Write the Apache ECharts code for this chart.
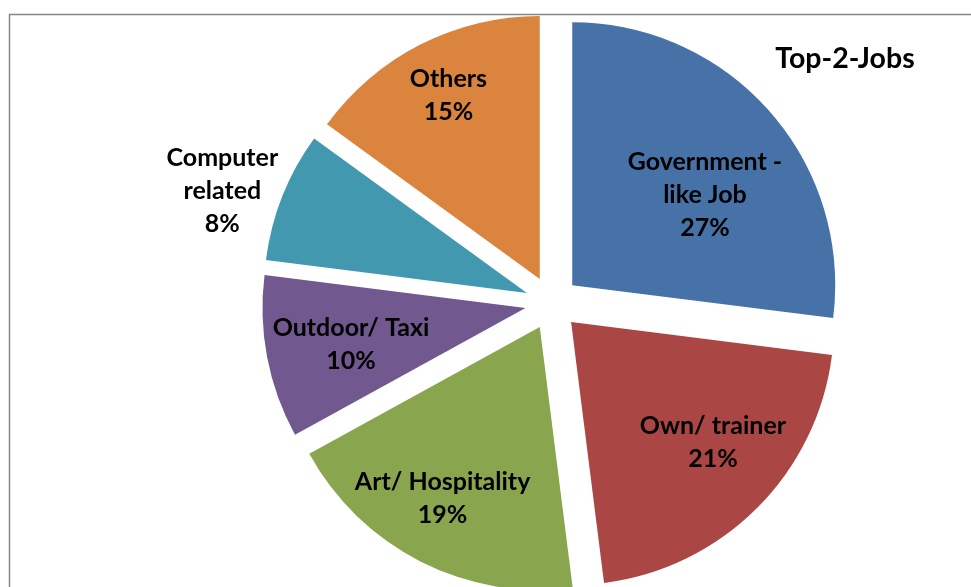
<!DOCTYPE html>
<html>
<head>
<meta charset="utf-8">
<script src="https://cdn.jsdelivr.net/npm/echarts@6/dist/echarts.min.js"></script>
<style>
  html, body { margin: 0; padding: 0; background: #ffffff; }
  #chart { width: 971px; height: 587px; }
</style>
</head>
<body>
<div id="chart"></div>
<script>
// Share of respondents by preferred job type (percent)
const jobNames = ['Government -\nlike Job', 'Own/ trainer', 'Art/ Hospitality', 'Outdoor/ Taxi', 'Computer\nrelated', 'Others'];
const jobShares = [27, 21, 19, 10, 8, 15];
const sliceColors = ['#4672A7', '#AA4644', '#89A54E', '#71588F', '#4198AF', '#DB843D'];

// Label placement: distance from the exploded slice centre as a fraction of
// the radius, and a small angular nudge (degrees) off the slice's mid angle.
const labelRadius = [0.61, 0.706, 0.748, 0.678, 1.221, 0.781];
const labelTurn = [7.2, -4.8, 2.6, -1.1, -3.1, 0.6];

const W = 971, H = 587;
const CX = 552, CY = 303, R = 263, EXPLODE = 27;
const FONT = 'Lato, "Open Sans", sans-serif';

const total = jobShares.reduce((a, b) => a + b, 0);
const midAngles = [];
let acc = 0;
for (const v of jobShares) {
  midAngles.push((acc + v / 2) / total * 360);
  acc += v;
}

// Anchor of each slice label, following the slice's pulled-out position.
const labelPoints = jobShares.map((v, i) => {
  const m = midAngles[i] * Math.PI / 180;
  const a = (midAngles[i] + labelTurn[i]) * Math.PI / 180;
  const r = labelRadius[i] * R;
  return {
    value: [CX + EXPLODE * Math.sin(m) + r * Math.sin(a),
            CY - EXPLODE * Math.cos(m) - r * Math.cos(a)],
    text: jobNames[i] + '\n' + v + '%'
  };
});

const chart = echarts.init(document.getElementById('chart'), null, { renderer: 'canvas' });

chart.setOption({
  backgroundColor: '#ffffff',
  animation: false,
  title: {
    text: 'Top-2-Jobs',
    left: 840,
    top: 54,
    textAlign: 'center',
    textVerticalAlign: 'middle',
    textStyle: { fontFamily: FONT, fontWeight: 'bold', fontSize: 28.5, color: '#000000' }
  },
  graphic: [{
    type: 'rect',
    z: -10,
    silent: true,
    shape: { x: 9.5, y: 14.5, width: 1200, height: 1200 },
    style: { fill: null, stroke: '#868686', lineWidth: 1.5 }
  }],
  // pixel-space axes used only to place the slice labels
  grid: { left: 0, right: 0, top: 0, bottom: 0 },
  xAxis: { type: 'value', min: 0, max: W, show: false },
  yAxis: { type: 'value', min: 0, max: H, inverse: true, show: false },
  series: [{
    type: 'pie',
    center: [CX, CY],
    radius: R,
    startAngle: 90,
    clockwise: true,
    selectedMode: 'multiple',
    selectedOffset: EXPLODE,
    emphasis: { disabled: true },
    label: { show: false },
    labelLine: { show: false },
    itemStyle: { borderWidth: 0 },
    data: jobNames.map((name, i) => ({
      name: name,
      value: jobShares[i],
      selected: true,
      itemStyle: { color: sliceColors[i] }
    }))
  }, {
    type: 'scatter',
    symbolSize: 0,
    silent: true,
    z: 10,
    itemStyle: { opacity: 1 },
    emphasis: { disabled: true },
    label: {
      show: true,
      position: 'inside',
      formatter: p => p.data.text,
      color: '#000000',
      opacity: 1,
      fontFamily: FONT,
      fontWeight: 'bold',
      fontSize: 25,
      lineHeight: 33,
      align: 'center',
      verticalAlign: 'middle'
    },
    data: labelPoints
  }]
});
</script>
</body>
</html>
